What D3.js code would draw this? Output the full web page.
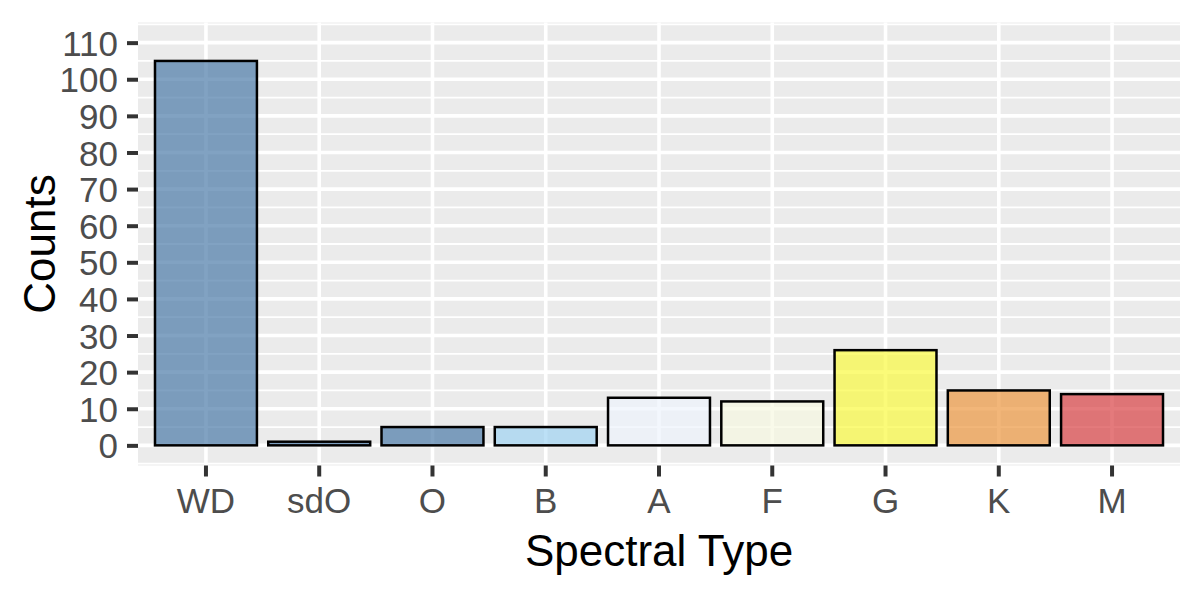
<!DOCTYPE html>
<html>
<head>
<meta charset="utf-8">
<script src="https://cdn.jsdelivr.net/npm/d3@7"></script>
<style>
  body { margin: 0; background: #fff; }
  text { font-family: "Liberation Sans", Arial, Helvetica, sans-serif; }
</style>
</head>
<body>
<div id="chart"></div>
<script>
var svgWidth = 1200;
var svgHeight = 600;

// panel position
var margin = { top: 22.5, right: 20, bottom: 134.5, left: 138 };
var width = svgWidth - margin.left - margin.right;
var height = svgHeight - margin.top - margin.bottom;

// data
var spectralTypes = ["WD", "sdO", "O", "B", "A", "F", "G", "K", "M"];
var counts = [105, 1, 5, 5, 13, 12, 26, 15, 14];
var barColours = ["#4B7AA8", "#4B7AA8", "#4B7AA8", "#9FD3F2", "#EEF4FC", "#F6F8E1", "#F9F940", "#EC9740", "#D84144"];
var yTicks = [0, 10, 20, 30, 40, 50, 60, 70, 80, 90, 100, 110];
var yMinor = [-5, 5, 15, 25, 35, 45, 55, 65, 75, 85, 95, 105, 115];

var data = spectralTypes.map(function(t, i) {
  return { type: t, count: counts[i], colour: barColours[i] };
});

var svg = d3.select("#chart")
  .append("svg")
  .attr("width", svgWidth)
  .attr("height", svgHeight);

var chartGroup = svg.append("g")
  .attr("transform", `translate(${margin.left}, ${margin.top})`);

// ggplot style scales: discrete axis expanded 0.6 each side, y limits 0-110 with 5% expansion
var xScale = d3.scaleBand()
  .domain(spectralTypes)
  .range([0, width])
  .paddingInner(0.1)
  .paddingOuter(0.15);

var yScale = d3.scaleLinear()
  .domain([-5.5, 115.5])
  .range([height, 0]);

// panel background
chartGroup.append("rect")
  .attr("width", width)
  .attr("height", height)
  .attr("fill", "#EBEBEB");

// minor grid
chartGroup.selectAll(".minor")
  .data(yMinor)
  .enter()
  .append("line")
  .attr("x1", 0)
  .attr("x2", width)
  .attr("y1", d => yScale(d))
  .attr("y2", d => yScale(d))
  .attr("stroke", "#fff")
  .attr("stroke-width", 1.8);

// major grid
chartGroup.selectAll(".majorY")
  .data(yTicks)
  .enter()
  .append("line")
  .attr("x1", 0)
  .attr("x2", width)
  .attr("y1", d => yScale(d))
  .attr("y2", d => yScale(d))
  .attr("stroke", "#fff")
  .attr("stroke-width", 3.6);

chartGroup.selectAll(".majorX")
  .data(spectralTypes)
  .enter()
  .append("line")
  .attr("x1", d => xScale(d) + xScale.bandwidth() / 2)
  .attr("x2", d => xScale(d) + xScale.bandwidth() / 2)
  .attr("y1", 0)
  .attr("y2", height)
  .attr("stroke", "#fff")
  .attr("stroke-width", 3.6);

// bars
chartGroup.selectAll(".bar")
  .data(data)
  .enter()
  .append("rect")
  .attr("x", d => xScale(d.type))
  .attr("y", d => yScale(d.count))
  .attr("width", xScale.bandwidth())
  .attr("height", d => yScale(0) - yScale(d.count))
  .attr("fill", d => d.colour)
  .attr("fill-opacity", 0.7)
  .attr("stroke", "#000")
  .attr("stroke-width", 2.5);

// axes
var bottomAxis = d3.axisBottom(xScale).tickSizeInner(11).tickSizeOuter(0).tickPadding(10);
var leftAxis = d3.axisLeft(yScale).tickValues(yTicks).tickSizeInner(11).tickSizeOuter(0).tickPadding(9);

var xAxis = chartGroup.append("g")
  .attr("transform", `translate(0, ${height})`)
  .call(bottomAxis);

var yAxis = chartGroup.append("g")
  .call(leftAxis);

[xAxis, yAxis].forEach(function(ax) {
  ax.select(".domain").remove();
  ax.selectAll(".tick line").attr("stroke", "#333333").attr("stroke-width", 4);
  ax.selectAll(".tick text")
    .attr("fill", "#4D4D4D")
    .style("font-size", "35px");
});
xAxis.selectAll(".tick text").attr("dy", "0.75em");
yAxis.selectAll(".tick text").attr("dy", "0.36em");

// axis titles
chartGroup.append("text")
  .attr("x", width / 2)
  .attr("y", height + 100)
  .attr("text-anchor", "middle")
  .style("font-size", "44px")
  .attr("fill", "#000")
  .text("Spectral Type");

chartGroup.append("text")
  .attr("transform", "rotate(-90)")
  .attr("x", -(height / 2))
  .attr("y", -83)
  .attr("text-anchor", "middle")
  .style("font-size", "44px")
  .attr("fill", "#000")
  .text("Counts");
</script>
</body>
</html>
